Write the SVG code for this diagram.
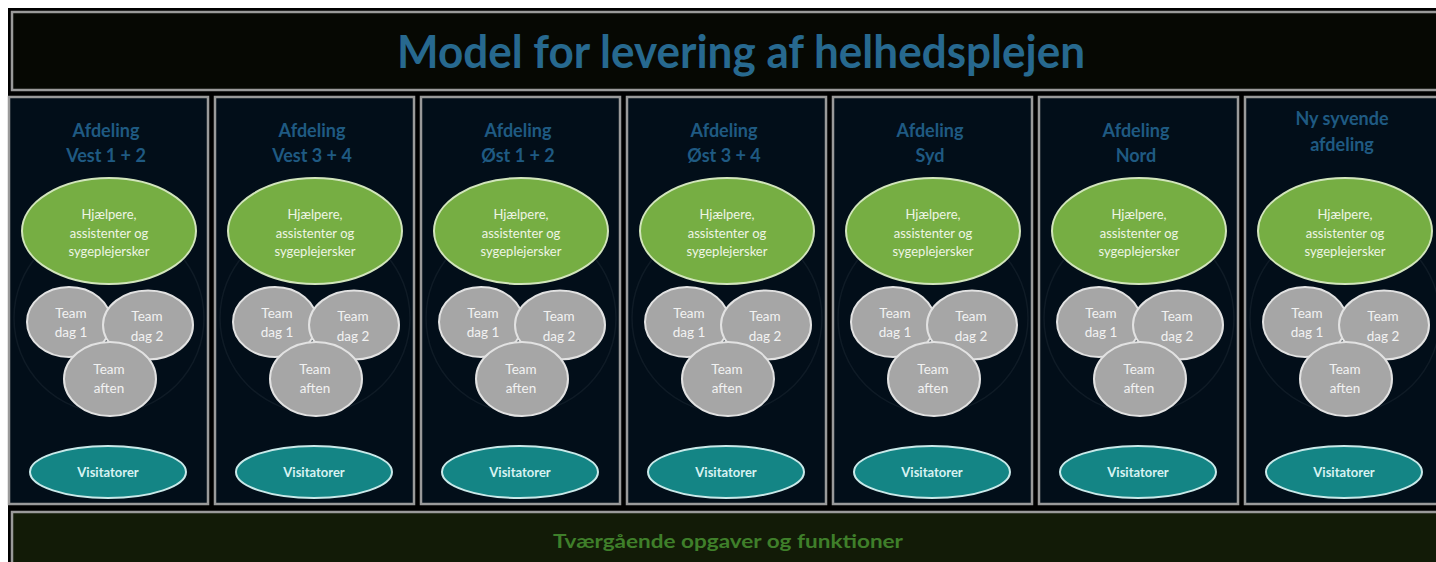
<svg xmlns="http://www.w3.org/2000/svg" width="1436" height="562" viewBox="0 0 1436 562">
  <style>
    .frame { stroke: #9a9a9a; stroke-width: 2.5; }
    .col { fill: #020e19; }
    .ring { fill: none; stroke: #0f1b26; stroke-width: 1.5; }
    .staff { fill: #76ae43; stroke: #d2e5bc; stroke-width: 2; }
    .team { fill: #a6a6a6; stroke: #e2e2e2; stroke-width: 2; }
    .visit { fill: #148585; stroke: #c9e9e9; stroke-width: 2; }
    text { font-family: Lato, "Open Sans", "Liberation Sans", sans-serif; text-anchor: middle; }
    .title { font-size: 46px; font-weight: bold; fill: #27698f; }
    .head { font-size: 18px; font-weight: bold; fill: #1f5a82; }
    .staffTxt { font-size: 13px; fill: #eef5e4; }
    .teamTxt { font-size: 13.5px; fill: #f2f2f2; }
    .visitTxt { font-size: 13px; font-weight: bold; fill: #d8f2f2; }
    .foot { font-size: 19px; font-weight: bold; fill: #3f7f2a; }
  </style>

  <!-- page -->
  <rect x="0" y="0" width="1436" height="562" fill="#ffffff"/>
  <rect x="8" y="8" width="1428" height="554" fill="#000000"/>

  <!-- title banner -->
  <g id="title">
    <rect class="frame" x="12" y="12" width="1430" height="78" fill="#060803"/>
    <text class="title" x="741" y="68" textLength="688" lengthAdjust="spacingAndGlyphs">Model for levering af helhedsplejen</text>
  </g>

  <!-- department columns -->
  <g id="dept-vest-1-2" transform="translate(9,0)">
    <rect class="col frame" x="0" y="97" width="199" height="407"/>
    <circle class="ring" cx="100" cy="318" r="95"/>
    <text class="head" x="97" y="137">Afdeling</text>
    <text class="head" x="97" y="162">Vest 1 + 2</text>
    <ellipse class="staff" cx="100" cy="231" rx="87" ry="53"/>
    <text class="staffTxt" x="100" y="219">Hjælpere,</text>
    <text class="staffTxt" x="100" y="238">assistenter og</text>
    <text class="staffTxt" x="100" y="256">sygeplejersker</text>
    <ellipse class="team" cx="60" cy="322" rx="42" ry="35"/>
    <text class="teamTxt" x="62" y="318">Team</text>
    <text class="teamTxt" x="62" y="337">dag 1</text>
    <ellipse class="team" cx="139" cy="325" rx="45" ry="34.5"/>
    <text class="teamTxt" x="138" y="321">Team</text>
    <text class="teamTxt" x="138" y="341">dag 2</text>
    <ellipse class="team" cx="101" cy="379" rx="46" ry="37"/>
    <text class="teamTxt" x="100" y="374">Team</text>
    <text class="teamTxt" x="100" y="393">aften</text>
    <ellipse class="visit" cx="99" cy="472" rx="78" ry="26"/>
    <text class="visitTxt" x="99" y="477">Visitatorer</text>
  </g>

  <g id="dept-vest-3-4" transform="translate(215,0)">
    <rect class="col frame" x="0" y="97" width="199" height="407"/>
    <circle class="ring" cx="100" cy="318" r="95"/>
    <text class="head" x="97" y="137">Afdeling</text>
    <text class="head" x="97" y="162">Vest 3 + 4</text>
    <ellipse class="staff" cx="100" cy="231" rx="87" ry="53"/>
    <text class="staffTxt" x="100" y="219">Hjælpere,</text>
    <text class="staffTxt" x="100" y="238">assistenter og</text>
    <text class="staffTxt" x="100" y="256">sygeplejersker</text>
    <ellipse class="team" cx="60" cy="322" rx="42" ry="35"/>
    <text class="teamTxt" x="62" y="318">Team</text>
    <text class="teamTxt" x="62" y="337">dag 1</text>
    <ellipse class="team" cx="139" cy="325" rx="45" ry="34.5"/>
    <text class="teamTxt" x="138" y="321">Team</text>
    <text class="teamTxt" x="138" y="341">dag 2</text>
    <ellipse class="team" cx="101" cy="379" rx="46" ry="37"/>
    <text class="teamTxt" x="100" y="374">Team</text>
    <text class="teamTxt" x="100" y="393">aften</text>
    <ellipse class="visit" cx="99" cy="472" rx="78" ry="26"/>
    <text class="visitTxt" x="99" y="477">Visitatorer</text>
  </g>

  <g id="dept-oest-1-2" transform="translate(421,0)">
    <rect class="col frame" x="0" y="97" width="199" height="407"/>
    <circle class="ring" cx="100" cy="318" r="95"/>
    <text class="head" x="97" y="137">Afdeling</text>
    <text class="head" x="97" y="162">Øst 1 + 2</text>
    <ellipse class="staff" cx="100" cy="231" rx="87" ry="53"/>
    <text class="staffTxt" x="100" y="219">Hjælpere,</text>
    <text class="staffTxt" x="100" y="238">assistenter og</text>
    <text class="staffTxt" x="100" y="256">sygeplejersker</text>
    <ellipse class="team" cx="60" cy="322" rx="42" ry="35"/>
    <text class="teamTxt" x="62" y="318">Team</text>
    <text class="teamTxt" x="62" y="337">dag 1</text>
    <ellipse class="team" cx="139" cy="325" rx="45" ry="34.5"/>
    <text class="teamTxt" x="138" y="321">Team</text>
    <text class="teamTxt" x="138" y="341">dag 2</text>
    <ellipse class="team" cx="101" cy="379" rx="46" ry="37"/>
    <text class="teamTxt" x="100" y="374">Team</text>
    <text class="teamTxt" x="100" y="393">aften</text>
    <ellipse class="visit" cx="99" cy="472" rx="78" ry="26"/>
    <text class="visitTxt" x="99" y="477">Visitatorer</text>
  </g>

  <g id="dept-oest-3-4" transform="translate(627,0)">
    <rect class="col frame" x="0" y="97" width="199" height="407"/>
    <circle class="ring" cx="100" cy="318" r="95"/>
    <text class="head" x="97" y="137">Afdeling</text>
    <text class="head" x="97" y="162">Øst 3 + 4</text>
    <ellipse class="staff" cx="100" cy="231" rx="87" ry="53"/>
    <text class="staffTxt" x="100" y="219">Hjælpere,</text>
    <text class="staffTxt" x="100" y="238">assistenter og</text>
    <text class="staffTxt" x="100" y="256">sygeplejersker</text>
    <ellipse class="team" cx="60" cy="322" rx="42" ry="35"/>
    <text class="teamTxt" x="62" y="318">Team</text>
    <text class="teamTxt" x="62" y="337">dag 1</text>
    <ellipse class="team" cx="139" cy="325" rx="45" ry="34.5"/>
    <text class="teamTxt" x="138" y="321">Team</text>
    <text class="teamTxt" x="138" y="341">dag 2</text>
    <ellipse class="team" cx="101" cy="379" rx="46" ry="37"/>
    <text class="teamTxt" x="100" y="374">Team</text>
    <text class="teamTxt" x="100" y="393">aften</text>
    <ellipse class="visit" cx="99" cy="472" rx="78" ry="26"/>
    <text class="visitTxt" x="99" y="477">Visitatorer</text>
  </g>

  <g id="dept-syd" transform="translate(833,0)">
    <rect class="col frame" x="0" y="97" width="199" height="407"/>
    <circle class="ring" cx="100" cy="318" r="95"/>
    <text class="head" x="97" y="137">Afdeling</text>
    <text class="head" x="97" y="162">Syd</text>
    <ellipse class="staff" cx="100" cy="231" rx="87" ry="53"/>
    <text class="staffTxt" x="100" y="219">Hjælpere,</text>
    <text class="staffTxt" x="100" y="238">assistenter og</text>
    <text class="staffTxt" x="100" y="256">sygeplejersker</text>
    <ellipse class="team" cx="60" cy="322" rx="42" ry="35"/>
    <text class="teamTxt" x="62" y="318">Team</text>
    <text class="teamTxt" x="62" y="337">dag 1</text>
    <ellipse class="team" cx="139" cy="325" rx="45" ry="34.5"/>
    <text class="teamTxt" x="138" y="321">Team</text>
    <text class="teamTxt" x="138" y="341">dag 2</text>
    <ellipse class="team" cx="101" cy="379" rx="46" ry="37"/>
    <text class="teamTxt" x="100" y="374">Team</text>
    <text class="teamTxt" x="100" y="393">aften</text>
    <ellipse class="visit" cx="99" cy="472" rx="78" ry="26"/>
    <text class="visitTxt" x="99" y="477">Visitatorer</text>
  </g>

  <g id="dept-nord" transform="translate(1039,0)">
    <rect class="col frame" x="0" y="97" width="199" height="407"/>
    <circle class="ring" cx="100" cy="318" r="95"/>
    <text class="head" x="97" y="137">Afdeling</text>
    <text class="head" x="97" y="162">Nord</text>
    <ellipse class="staff" cx="100" cy="231" rx="87" ry="53"/>
    <text class="staffTxt" x="100" y="219">Hjælpere,</text>
    <text class="staffTxt" x="100" y="238">assistenter og</text>
    <text class="staffTxt" x="100" y="256">sygeplejersker</text>
    <ellipse class="team" cx="60" cy="322" rx="42" ry="35"/>
    <text class="teamTxt" x="62" y="318">Team</text>
    <text class="teamTxt" x="62" y="337">dag 1</text>
    <ellipse class="team" cx="139" cy="325" rx="45" ry="34.5"/>
    <text class="teamTxt" x="138" y="321">Team</text>
    <text class="teamTxt" x="138" y="341">dag 2</text>
    <ellipse class="team" cx="101" cy="379" rx="46" ry="37"/>
    <text class="teamTxt" x="100" y="374">Team</text>
    <text class="teamTxt" x="100" y="393">aften</text>
    <ellipse class="visit" cx="99" cy="472" rx="78" ry="26"/>
    <text class="visitTxt" x="99" y="477">Visitatorer</text>
  </g>

  <g id="dept-ny-syvende" transform="translate(1245,0)">
    <rect class="col frame" x="0" y="97" width="199" height="407"/>
    <circle class="ring" cx="100" cy="318" r="95"/>
    <text class="head" x="97" y="125">Ny syvende</text>
    <text class="head" x="97" y="151">afdeling</text>
    <ellipse class="staff" cx="100" cy="231" rx="87" ry="53"/>
    <text class="staffTxt" x="100" y="219">Hjælpere,</text>
    <text class="staffTxt" x="100" y="238">assistenter og</text>
    <text class="staffTxt" x="100" y="256">sygeplejersker</text>
    <ellipse class="team" cx="60" cy="322" rx="42" ry="35"/>
    <text class="teamTxt" x="62" y="318">Team</text>
    <text class="teamTxt" x="62" y="337">dag 1</text>
    <ellipse class="team" cx="139" cy="325" rx="45" ry="34.5"/>
    <text class="teamTxt" x="138" y="321">Team</text>
    <text class="teamTxt" x="138" y="341">dag 2</text>
    <ellipse class="team" cx="101" cy="379" rx="46" ry="37"/>
    <text class="teamTxt" x="100" y="374">Team</text>
    <text class="teamTxt" x="100" y="393">aften</text>
    <ellipse class="visit" cx="99" cy="472" rx="78" ry="26"/>
    <text class="visitTxt" x="99" y="477">Visitatorer</text>
  </g>

  <!-- cross-cutting band -->
  <g id="tvaergaaende">
    <rect class="frame" x="12" y="512" width="1430" height="60" fill="#121b07"/>
    <text class="foot" x="728" y="548" textLength="350" lengthAdjust="spacingAndGlyphs">Tværgående opgaver og funktioner</text>
  </g>
</svg>
